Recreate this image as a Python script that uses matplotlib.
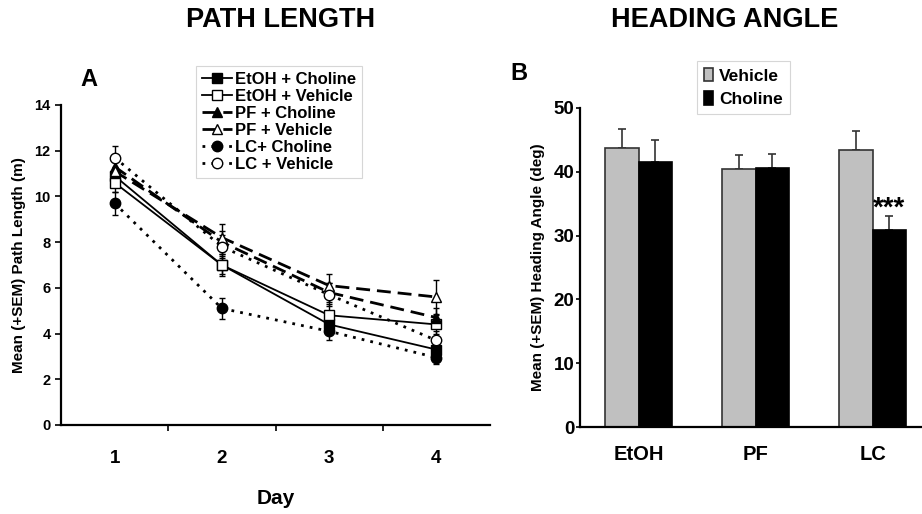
import matplotlib
matplotlib.use("Agg")
import matplotlib.pyplot as plt
import numpy as np

plt.rcParams['font.family'] = ['Liberation Sans', 'DejaVu Sans']
plt.rcParams['font.weight'] = 'bold'

# ---- Panel A data: path length ----
days = [1, 2, 3, 4]
series_names = ["EtOH + Choline", "EtOH + Vehicle", "PF + Choline",
                "PF + Vehicle", "LC+ Choline", "LC + Vehicle"]
etoh_choline = [10.9, 7.0, 4.4, 3.3]
etoh_vehicle = [10.6, 7.0, 4.8, 4.4]
pf_choline = [11.3, 8.0, 5.8, 4.7]
pf_vehicle = [11.1, 8.2, 6.1, 5.6]
lc_choline = [9.7, 5.1, 4.1, 2.95]
lc_vehicle = [11.7, 7.8, 5.7, 3.7]
etoh_choline_sem = [0.4, 0.4, 0.4, 0.3]
etoh_vehicle_sem = [0.4, 0.5, 0.5, 0.4]
pf_choline_sem = [0.4, 0.5, 0.4, 0.4]
pf_vehicle_sem = [0.4, 0.6, 0.5, 0.75]
lc_choline_sem = [0.5, 0.45, 0.4, 0.3]
lc_vehicle_sem = [0.5, 0.5, 0.5, 0.4]

# ---- Panel B data: heading angle ----
groups = ["EtOH", "PF", "LC"]
vehicle = [43.7, 40.4, 43.4]
choline = [41.5, 40.6, 30.9]
vehicle_sem = [3.0, 2.2, 3.0]
choline_sem = [3.5, 2.2, 2.2]

fig = plt.figure(figsize=(9.22, 5.14), dpi=100)

# ---------------- Panel A ----------------
axA = fig.add_axes([61/922, 1-425/514, 429/922, 320/514])
styles = [
    (etoh_choline, etoh_choline_sem, '-', 's', 'black'),
    (etoh_vehicle, etoh_vehicle_sem, '-', 's', 'white'),
    (pf_choline, pf_choline_sem, (0, (5, 2.5)), '^', 'black'),
    (pf_vehicle, pf_vehicle_sem, (0, (5, 2.5)), '^', 'white'),
    (lc_choline, lc_choline_sem, (0, (1, 2.2)), 'o', 'black'),
    (lc_vehicle, lc_vehicle_sem, (0, (1, 2.2)), 'o', 'white'),
]
handles = []
for (vals, sem, ls, mk, fc), name in zip(styles, series_names):
    lw = 1.3 if ls == '-' else 2.0
    axA.errorbar(days, vals, yerr=sem, fmt='none', ecolor='black',
                 elinewidth=1.0, capsize=2.5, capthick=1.0, zorder=3)
    h, = axA.plot(days, vals, linestyle=ls, color='black', lw=lw,
                  marker=mk, markersize=7.5, markerfacecolor=fc,
                  markeredgecolor='black', markeredgewidth=1.0,
                  label=name, zorder=4)
    handles.append(h)

axA.set_xlim(0.5, 4.5)
axA.set_ylim(0, 14)
axA.set_yticks(np.arange(0, 15, 2))
axA.set_xticks(days)
axA.set_xticks([1.5, 2.5, 3.5], minor=True)
axA.tick_params(axis='x', which='major', length=0, pad=18, labelsize=13.5)
axA.tick_params(axis='x', which='minor', length=4, width=1.2, direction='out')
axA.tick_params(axis='y', length=4, width=1.2, direction='out', labelsize=10.5)
for lab in axA.get_xticklabels() + axA.get_yticklabels():
    lab.set_fontweight('bold')
for s in ['top', 'right']:
    axA.spines[s].set_visible(False)
for s in ['left', 'bottom']:
    axA.spines[s].set_linewidth(1.6)
axA.set_xlabel("Day", fontsize=15, fontweight='bold', labelpad=16)
axA.set_ylabel("Mean (+SEM) Path Length (m)", fontsize=11, fontweight='bold', labelpad=6)

legA = axA.legend(handles=handles, loc='upper left', bbox_to_anchor=(127/429, 1+47/320),
                  frameon=True, fancybox=False, edgecolor='#cccccc',
                  handlelength=1.8, handletextpad=0.15, labelspacing=0.12,
                  borderpad=0.35, prop={'weight': 'bold', 'size': 12})
legA.get_frame().set_linewidth(0.8)

# ---------------- Panel B ----------------
axB = fig.add_axes([580/922, 1-427/514, 342/922, 319/514])
x = np.arange(len(groups))
w = 0.29
axB.bar(x - w/2, vehicle, width=w, color='#c0c0c0', edgecolor='#333333', lw=1.2,
        label='Vehicle', zorder=2)
axB.bar(x + w/2, choline, width=w, color='black', edgecolor='black', lw=1.2,
        label='Choline', zorder=2)
axB.errorbar(x - w/2, vehicle, yerr=[np.zeros(3), vehicle_sem], fmt='none',
             ecolor='#333333', elinewidth=1.2, capsize=3, capthick=1.2, zorder=1)
axB.errorbar(x + w/2, choline, yerr=[np.zeros(3), choline_sem], fmt='none',
             ecolor='#333333', elinewidth=1.2, capsize=3, capthick=1.2, zorder=1)
axB.text(x[2] + w/2, choline[2] + choline_sem[2] - 0.9, "***", ha='center',
         va='bottom', fontsize=20, fontweight='bold')

axB.set_xlim(-0.5, -0.5 + 342/117)
axB.set_ylim(0, 50)
axB.set_yticks(np.arange(0, 51, 10))
axB.set_xticks(x)
axB.set_xticklabels(groups)
axB.tick_params(axis='x', length=0, pad=13, labelsize=14.5)
axB.tick_params(axis='y', length=3, width=1.2, direction='out', labelsize=13.5, pad=1)
for lab in axB.get_xticklabels() + axB.get_yticklabels():
    lab.set_fontweight('bold')
for s in ['top', 'right']:
    axB.spines[s].set_visible(False)
for s in ['left', 'bottom']:
    axB.spines[s].set_linewidth(1.6)
axB.set_ylabel("Mean (+SEM) Heading Angle (deg)", fontsize=11, fontweight='bold', labelpad=6)

legB = axB.legend(loc='upper left', bbox_to_anchor=(108/342, 1+56/319),
                  frameon=True, fancybox=False, edgecolor='#cccccc',
                  handlelength=0.55, handleheight=0.85, handletextpad=0.35,
                  labelspacing=0.45, borderpad=0.4, prop={'weight': 'bold', 'size': 12.5})
legB.get_frame().set_linewidth(0.8)

# ---------------- Titles and panel letters ----------------
fig.text(281/922, 1-20/514, "PATH LENGTH", ha='center', va='center', fontsize=19.5, fontweight='bold')
fig.text(725/922, 1-20/514, "HEADING ANGLE", ha='center', va='center', fontsize=19.5, fontweight='bold')
fig.text(89/922, 1-80/514, "A", ha='center', va='center', fontsize=17, fontweight='bold')
fig.text(519/922, 1-74/514, "B", ha='center', va='center', fontsize=17, fontweight='bold')

fig.savefig("out.png", dpi=100)
